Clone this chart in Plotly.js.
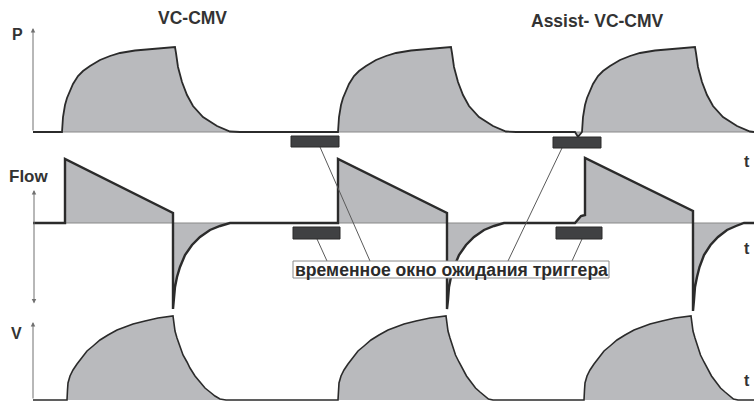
<!DOCTYPE html>
<html>
<head>
<meta charset="utf-8">
<script src="https://cdn.plot.ly/plotly-3.0.1.min.js"></script>
<style>html,body{margin:0;padding:0;background:#fff;}#chart{width:754px;height:401px;}</style>
</head>
<body>
<div id="chart"></div>
<script>
// ---------------- DATA (time in s) ----------------
const tP = [0, 0.58, 0.60, 0.64, 0.68, 0.74, 0.80, 0.90, 1.00, 1.14, 1.34, 1.54, 1.74, 2.04, 2.44, 2.84, 2.86, 2.90, 2.98, 3.08, 3.20, 3.40, 3.68, 3.94, 4.14,
  6.10, 6.12, 6.16, 6.20, 6.26, 6.32, 6.42, 6.52, 6.66, 6.86, 7.06, 7.26, 7.56, 7.96, 8.36, 8.38, 8.42, 8.50, 8.60, 8.72, 8.92, 9.20, 9.46, 9.66,
  10.84, 10.90, 10.98, 11.00, 11.04, 11.08, 11.14, 11.20, 11.30, 11.40, 11.54, 11.74, 11.94, 12.14, 12.44, 12.84, 13.24, 13.26, 13.30, 13.38, 13.48, 13.60, 13.80, 14.08, 14.34, 14.42];
const pressure = [0, 0, 4.5, 8.1, 10.2, 12.6, 14.4, 16.8, 18.3, 19.8, 21.6, 22.8, 23.7, 24.45, 25.05, 25.5, 23.7, 19.5, 15.0, 11.1, 7.8, 4.5, 1.8, 0.15, 0,
  0, 4.5, 8.1, 10.2, 12.6, 14.4, 16.8, 18.3, 19.8, 21.6, 22.8, 23.7, 24.45, 25.05, 25.5, 23.7, 19.5, 15.0, 11.1, 7.8, 4.5, 1.8, 0.15, 0,
  0, -1.5, 0, 4.5, 8.1, 10.2, 12.6, 14.4, 16.8, 18.3, 19.8, 21.6, 22.8, 23.7, 24.45, 25.05, 25.5, 23.7, 19.5, 15.0, 11.1, 7.8, 4.5, 1.8, 0.15, 0];

const tFlow = [0, 0.64, 0.64, 2.80, 2.80, 2.82, 2.84, 2.88, 2.94, 3.04, 3.18, 3.34, 3.54, 3.74, 3.94,
  6.10, 6.10, 8.28, 8.28, 8.30, 8.32, 8.36, 8.42, 8.52, 8.66, 8.82, 9.02, 9.22, 9.42,
  10.84, 10.90, 10.96, 11.04, 11.04, 13.20, 13.20, 13.22, 13.24, 13.28, 13.33, 13.42, 13.55, 13.70, 13.88, 14.06, 14.22, 14.42];
const flow = [0, 0, 64, 10, -86, -77, -64, -54, -44, -32, -22, -14, -7, -3, 0,
  0, 64, 10, -86, -77, -64, -54, -44, -32, -22, -14, -7, -3, 0,
  0, 4, 7, 8, 65, 12, -88, -77, -64, -54, -44, -32, -22, -14, -7, -3, 0, 0];

const tVol = [0,
  0.68, 0.69, 0.70, 0.74, 0.80, 0.88, 0.98, 1.08, 1.20, 1.34, 1.50, 1.68, 1.84, 2.00, 2.24, 2.50, 2.80,
  2.82, 2.84, 2.88, 2.94, 3.00, 3.08, 3.14, 3.24, 3.34, 3.44, 3.54, 3.64, 3.74, 3.86,
  6.10, 6.11, 6.12, 6.16, 6.22, 6.30, 6.40, 6.50, 6.62, 6.76, 6.92, 7.10, 7.26, 7.42, 7.66, 7.94, 8.26,
  8.28, 8.30, 8.34, 8.39, 8.45, 8.52, 8.58, 8.67, 8.76, 8.85, 8.94, 9.03, 9.11, 9.20,
  11.02, 11.03, 11.04, 11.08, 11.14, 11.22, 11.32, 11.42, 11.54, 11.68, 11.84, 12.02, 12.18, 12.34, 12.58, 12.84, 13.16,
  13.18, 13.20, 13.24, 13.29, 13.35, 13.42, 13.48, 13.57, 13.66, 13.75, 13.84, 13.93, 14.01, 14.10,
  14.42];
const volume = [0,
  0, 60, 102, 144, 180, 216, 258, 294, 324, 360, 390, 420, 438, 456, 474, 492, 504,
  456, 414, 372, 318, 270, 228, 192, 144, 108, 72, 48, 24, 6, 0,
  0, 60, 102, 144, 180, 216, 258, 294, 324, 360, 390, 420, 438, 456, 474, 492, 504,
  456, 414, 372, 318, 270, 228, 192, 144, 108, 72, 48, 24, 6, 0,
  0, 60, 102, 144, 180, 216, 258, 294, 324, 360, 390, 420, 438, 456, 474, 492, 504,
  456, 414, 372, 318, 270, 228, 192, 144, 108, 72, 48, 24, 6, 0,
  0];

const baselineT = [0, 14.42];
const baselineZero = [0, 0];

const modeTitles = ['VC-CMV', 'Assist- VC-CMV'];
const axisLabels = ['P', 'Flow', 'V'];
const timeLabel = 't';
const windowLabel = 'временное окно ожидания триггера';

// ---------------- LAYOUT HELPERS ----------------
const W = 754, H = 401;
const px = x => x / W;
const py = y => 1 - y / H;
function yRange(zeroPx, unitsPerPx) { return [-(H - zeroPx) * unitsPerPx, zeroPx * unitsPerPx]; }
const xOriginPx = 33, pxPerSec = 50;
const xRange = [-xOriginPx / pxPerSec, (W - xOriginPx) / pxPerSec];

const FILL = '#b9babd', LINE = '#2b2b2b', GRAY = '#8a8a8a';
const FONT = 'Liberation Sans, Arial, sans-serif';

function fillTrace(x, y, ax) {
  return {x, y, yaxis: ax, type: 'scatter', mode: 'lines', line: {width: 0, color: FILL},
          fill: 'tozeroy', fillcolor: FILL, hoverinfo: 'skip'};
}
function lineTrace(x, y, ax, w) {
  return {x, y, yaxis: ax, type: 'scatter', mode: 'lines', line: {width: w, color: LINE}, hoverinfo: 'skip'};
}

const traces = [
  fillTrace(tP, pressure, 'y'),
  fillTrace(tFlow, flow, 'y2'),
  fillTrace(tVol, volume, 'y3'),
  {x: baselineT, y: baselineZero, yaxis: 'y', type: 'scatter', mode: 'lines', line: {width: 1, color: GRAY}},
  {x: baselineT, y: baselineZero, yaxis: 'y2', type: 'scatter', mode: 'lines', line: {width: 1.2, color: GRAY}},
  lineTrace(tP, pressure, 'y', 1.8),
  lineTrace(tFlow, flow, 'y2', 2.4),
  lineTrace(tVol, volume, 'y3', 1.6)
];

function txt(t, x, y, size, extra) {
  return Object.assign({text: t, x: px(x), y: py(y), xref: 'paper', yref: 'paper', showarrow: false,
    xanchor: 'center', yanchor: 'middle', font: {family: FONT, size: size, color: '#333'}}, extra || {});
}
function arrow(x, yHead, yTail, both) {
  const a = {text: '', x: px(x), y: py(yHead), xref: 'paper', yref: 'paper', showarrow: true,
    ax: 0, ay: yTail - yHead, arrowhead: 2, arrowsize: 0.9, arrowwidth: 1, arrowcolor: '#707070'};
  if (both) { a.arrowside = 'end+start'; a.startarrowhead = 2; a.startarrowsize = 0.9; }
  return a;
}

const annotations = [
  txt('<b>' + modeTitles[0] + '</b>', 192, 18, 17.5),
  txt('<b>' + modeTitles[1] + '</b>', 597, 21, 17.5),
  txt('<b>' + axisLabels[0] + '</b>', 17, 34, 16),
  txt('<b>' + axisLabels[1] + '</b>', 28, 176, 17),
  txt('<b>' + axisLabels[2] + '</b>', 16, 333, 16),
  txt('<b>' + timeLabel + '</b>', 747, 161, 16),
  txt('<b>' + timeLabel + '</b>', 747, 248, 16),
  txt('<b>' + timeLabel + '</b>', 747, 380, 16),
  txt('<b>' + windowLabel + '</b>', 451, 269.5, 17.6, {font: {family: FONT, size: 17.6, color: '#2b2b2b'}}),
  arrow(33, 28, 132, false),
  arrow(34, 190, 305, true),
  arrow(33, 322, 400, false)
];

function rect(x0, y0, x1, y1, fill, lc, lw) {
  return {type: 'rect', xref: 'paper', yref: 'paper', x0: px(x0), x1: px(x1), y0: py(y1), y1: py(y0),
          fillcolor: fill, line: {color: lc, width: lw}, layer: 'above'};
}
function seg(x0, y0, x1, y1) {
  return {type: 'line', xref: 'paper', yref: 'paper', x0: px(x0), y0: py(y0), x1: px(x1), y1: py(y1),
          line: {color: '#5a5a5a', width: 1}, layer: 'above'};
}
const WIN = '#404143', WINB = '#2a2a2a';
const shapes = [
  seg(320, 147, 370, 261),
  seg(317, 239, 327, 261),
  seg(562, 148, 508, 261),
  seg(582, 239, 572, 261),
  rect(291, 136, 339, 147, WIN, WINB, 1),
  rect(293, 227, 340, 239, WIN, WINB, 1),
  rect(553, 137, 601, 148, WIN, WINB, 1),
  rect(556, 227, 602, 239, WIN, WINB, 1),
  rect(293, 261, 609, 278, '#ffffff', '#8a8a8a', 1)
];

const layout = {
  width: W, height: H, margin: {l: 0, r: 0, t: 0, b: 0, pad: 0},
  paper_bgcolor: '#fff', plot_bgcolor: '#fff', showlegend: false,
  xaxis: {range: xRange, visible: false, fixedrange: true},
  yaxis: {range: yRange(132, 0.3), visible: false, domain: [0, 1]},
  yaxis2: {range: yRange(223, 1), visible: false, overlaying: 'y'},
  yaxis3: {range: yRange(400, 6), visible: false, overlaying: 'y'},
  annotations, shapes,
  font: {family: FONT}
};

Plotly.newPlot('chart', traces, layout, {staticPlot: true, displayModeBar: false});
</script>
</body>
</html>
